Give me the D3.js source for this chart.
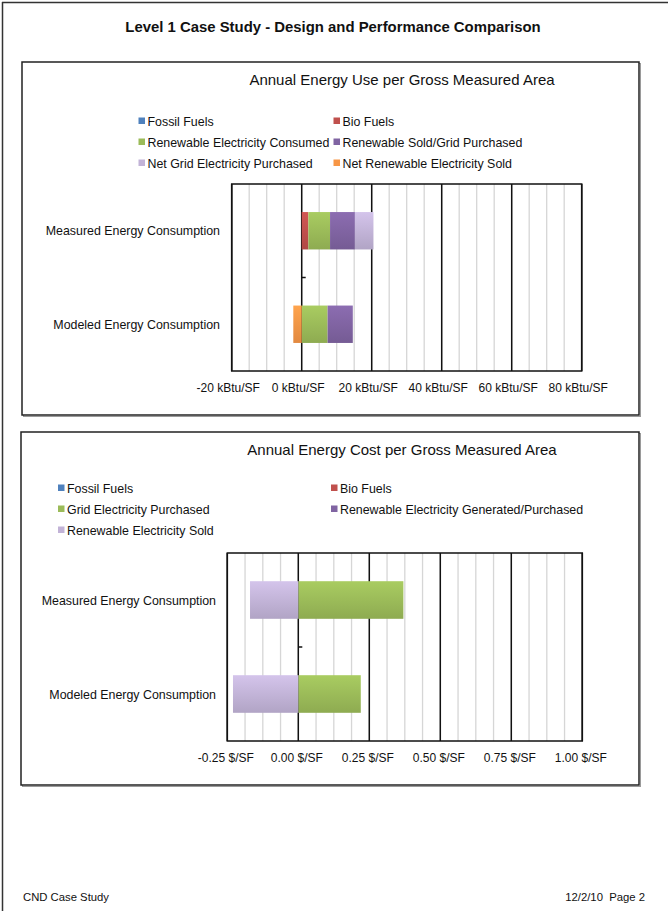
<!DOCTYPE html>
<html>
<head>
<meta charset="utf-8">
<script src="https://cdn.jsdelivr.net/npm/d3@7"></script>
<style>
  html, body { margin: 0; padding: 0; background: #fff; }
  svg { display: block; font-family: Arial, "Liberation Sans", sans-serif; }
  .pre { white-space: pre; }
</style>
</head>
<body>
<svg id="page" width="671" height="911"></svg>
<script>
// ---- Energy use (kBtu/SF) ----
const useCategories = ["Measured Energy Consumption", "Modeled Energy Consumption"];
const useSeries = ["Fossil Fuels", "Bio Fuels", "Renewable Electricity Consumed",
  "Renewable Sold/Grid Purchased", "Net Grid Electricity Purchased", "Net Renewable Electricity Sold"];
const useFossil = [0, 0];
const useBio = [1.9, 0];
const useRenewConsumed = [6.2, 7.4];
const useRenewSoldGrid = [7.1, 7.2];
const useNetGrid = [5.3, 0];
const useNetRenewSold = [0, -2.4];
const useTicks = [-20, 0, 20, 40, 60, 80];
const useTickLabels = ["-20 kBtu/SF", "0 kBtu/SF", "20 kBtu/SF", "40 kBtu/SF", "60 kBtu/SF", "80 kBtu/SF"];

// ---- Energy cost ($/SF) ----
const costCategories = ["Measured Energy Consumption", "Modeled Energy Consumption"];
const costSeries = ["Fossil Fuels", "Bio Fuels", "Grid Electricity Purchased",
  "Renewable Electricity Generated/Purchased", "Renewable Electricity Sold"];
const costFossil = [0, 0];
const costBio = [0, 0];
const costGrid = [0.37, 0.22];
const costRenewGen = [0, 0];
const costRenewSold = [-0.17, -0.23];
const costTicks = [-0.25, 0, 0.25, 0.5, 0.75, 1.0];
const costTickLabels = ["-0.25 $/SF", "0.00 $/SF", "0.25 $/SF", "0.50 $/SF", "0.75 $/SF", "1.00 $/SF"];

const palette = {
  blue: "#4F81BD", red: "#C0504D", green: "#9BBB59",
  purple: "#8064A2", lilac: "#C2B3D7", orange: "#F79646"
};

const svg = d3.select("#page");
const defs = svg.append("defs");

// vertical shading for bar segments: lighter top, deeper bottom
function gradientFor(key, color) {
  const id = "grad-" + key;
  const c = d3.color(color);
  const g = defs.append("linearGradient").attr("id", id)
    .attr("x1", 0).attr("y1", 0).attr("x2", 0).attr("y2", 1);
  g.append("stop").attr("offset", "0%").attr("stop-color", c.brighter(0.25));
  g.append("stop").attr("offset", "100%").attr("stop-color", c.darker(0.25));
  return "url(#" + id + ")";
}
Object.entries(palette).forEach(([k, v]) => gradientFor(k, v));

// page frame
svg.append("line").attr("x1", 2.5).attr("y1", 2).attr("x2", 2.5).attr("y2", 911)
  .attr("stroke", "#333").attr("stroke-width", 1.5);
svg.append("line").attr("x1", 2).attr("y1", 2.5).attr("x2", 668).attr("y2", 2.5)
  .attr("stroke", "#333").attr("stroke-width", 1.5);

svg.append("text").attr("x", 333).attr("y", 32).attr("text-anchor", "middle")
  .attr("font-size", 14.9).attr("font-weight", "bold").attr("fill", "#111")
  .text("Level 1 Case Study - Design and Performance Comparison");

svg.append("text").attr("x", 23).attr("y", 901).attr("font-size", 11.3).attr("fill", "#111")
  .text("CND Case Study");
svg.append("text").attr("class", "pre").attr("x", 645).attr("y", 901).attr("text-anchor", "end")
  .attr("font-size", 11.3).attr("fill", "#111").text("12/2/10  Page 2");

function drawChart(cfg) {
  const g = svg.append("g");
  // chart frame with a soft shadow edge
  g.append("rect").attr("x", cfg.frame[0] + 1.5).attr("y", cfg.frame[1] + 1.5)
    .attr("width", cfg.frame[2] - cfg.frame[0]).attr("height", cfg.frame[3] - cfg.frame[1])
    .attr("fill", "none").attr("stroke", "#9a9a9a").attr("stroke-width", 1);
  g.append("rect").attr("x", cfg.frame[0]).attr("y", cfg.frame[1])
    .attr("width", cfg.frame[2] - cfg.frame[0]).attr("height", cfg.frame[3] - cfg.frame[1])
    .attr("fill", "#fff").attr("stroke", "#222").attr("stroke-width", 1.5);

  g.append("text").attr("x", cfg.titleX).attr("y", cfg.titleY).attr("text-anchor", "middle")
    .attr("font-size", 15).attr("fill", "#111").text(cfg.title);

  // legend
  cfg.series.forEach((name, i) => {
    const col = i % 2, row = Math.floor(i / 2);
    const lx = cfg.legendX[col], ly = cfg.legendY + row * 21;
    g.append("rect").attr("x", lx).attr("y", ly - 4).attr("width", 6.5).attr("height", 6.5)
      .attr("fill", cfg.colors[i]);
    g.append("text").attr("x", lx + 9).attr("y", ly + 4.5).attr("font-size", 12.4)
      .attr("fill", "#111").text(name);
  });

  const x = d3.scaleLinear().domain(cfg.domain).range(cfg.xRange);
  const y = d3.scaleBand().domain(cfg.categories).range(cfg.yRange).padding(0);
  const [x0, x1] = cfg.xRange, [y0, y1] = cfg.yRange;

  // minor grid
  const minorStep = (cfg.domain[1] - cfg.domain[0]) / 20;
  const minor = d3.range(0, 21).map(i => cfg.domain[0] + i * minorStep);
  g.append("g").selectAll("line").data(minor).join("line")
    .attr("x1", d => x(d)).attr("x2", d => x(d)).attr("y1", y0).attr("y2", y1)
    .attr("stroke", "#d6d6d6").attr("stroke-width", 1.3);
  // major grid
  g.append("g").selectAll("line").data(cfg.ticks).join("line")
    .attr("x1", d => x(d)).attr("x2", d => x(d)).attr("y1", y0).attr("y2", y1)
    .attr("stroke", "#111").attr("stroke-width", 1.5);

  // stacked segments
  const rows = cfg.categories.map((c, i) => {
    const r = { category: c };
    cfg.series.forEach((s, j) => r[s] = cfg.values[j][i]);
    return r;
  });
  const stacked = d3.stack().keys(cfg.series).offset(d3.stackOffsetDiverging)(rows);
  const bh = y.bandwidth() * 0.4;
  stacked.forEach((layer, j) => {
    g.append("g").selectAll("rect").data(layer.filter(d => d[1] !== d[0])).join("rect")
      .attr("x", d => x(Math.min(d[0], d[1])))
      .attr("width", d => Math.abs(x(d[1]) - x(d[0])))
      .attr("y", d => y(d.data.category) + (y.bandwidth() - bh) / 2)
      .attr("height", bh)
      .attr("fill", cfg.fills[j]);
  });

  // plot area border and category axis at zero
  g.append("rect").attr("x", x0).attr("y", y0).attr("width", x1 - x0).attr("height", y1 - y0)
    .attr("fill", "none").attr("stroke", "#111").attr("stroke-width", 1.5);
  g.append("line").attr("x1", x(0)).attr("x2", x(0) + 4)
    .attr("y1", y0 + y.step()).attr("y2", y0 + y.step())
    .attr("stroke", "#111").attr("stroke-width", 1.5);

  // category labels
  cfg.categories.forEach(c => {
    g.append("text").attr("x", cfg.catX).attr("y", y(c) + y.bandwidth() / 2 + 4.5)
      .attr("text-anchor", "end").attr("font-size", 12.4).attr("fill", "#111").text(c);
  });

  // value axis
  const axis = d3.axisBottom(x).tickValues(cfg.ticks)
    .tickFormat((d, i) => cfg.tickLabels[i]).tickSize(0).tickPadding(0);
  const ax = g.append("g").attr("transform", `translate(${cfg.labelShift},${cfg.labelY})`).call(axis);
  ax.select(".domain").remove();
  ax.selectAll("text").attr("font-size", 12).attr("fill", "#111")
    .attr("font-family", "Arial, 'Liberation Sans', sans-serif");
}

drawChart({
  frame: [22, 62, 639, 415],
  title: "Annual Energy Use per Gross Measured Area", titleX: 402, titleY: 85,
  series: useSeries,
  colors: [palette.blue, palette.red, palette.green, palette.purple, palette.lilac, palette.orange],
  fills: ["url(#grad-blue)", "url(#grad-red)", "url(#grad-green)", "url(#grad-purple)", "url(#grad-lilac)", "url(#grad-orange)"],
  values: [useFossil, useBio, useRenewConsumed, useRenewSoldGrid, useNetGrid, useNetRenewSold],
  legendX: [138.5, 333.5], legendY: 121.5,
  categories: useCategories,
  domain: [-20, 80], xRange: [231.7, 581.7], yRange: [184, 371],
  ticks: useTicks, tickLabels: useTickLabels,
  catX: 220, labelY: 383, labelShift: -4
});

drawChart({
  frame: [21, 432, 639, 785],
  title: "Annual Energy Cost per Gross Measured Area", titleX: 402, titleY: 455,
  series: costSeries,
  colors: [palette.blue, palette.red, palette.green, palette.purple, palette.lilac],
  fills: ["url(#grad-blue)", "url(#grad-red)", "url(#grad-green)", "url(#grad-purple)", "url(#grad-lilac)"],
  values: [costFossil, costBio, costGrid, costRenewGen, costRenewSold],
  legendX: [58, 331], legendY: 488.5,
  categories: costCategories,
  domain: [-0.25, 1.0], xRange: [227.3, 582.3], yRange: [553, 741],
  ticks: costTicks, tickLabels: costTickLabels,
  catX: 216, labelY: 753, labelShift: -2
});
</script>
</body>
</html>
